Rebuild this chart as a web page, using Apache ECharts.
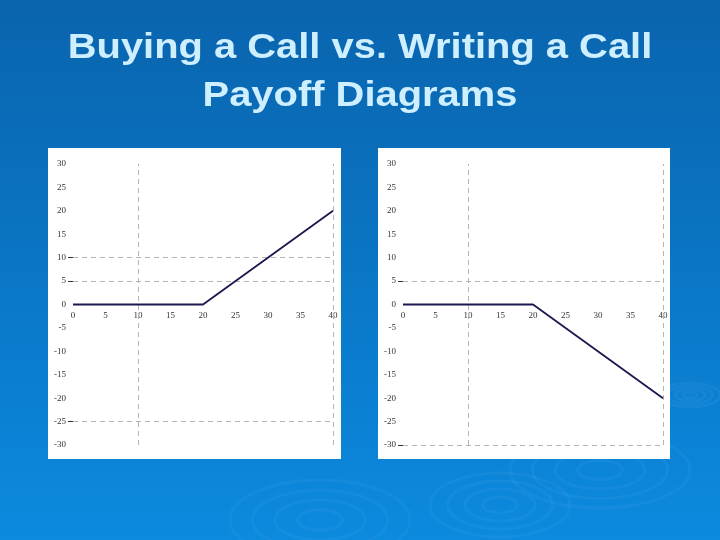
<!DOCTYPE html>
<html>
<head>
<meta charset="utf-8">
<script src="https://cdn.jsdelivr.net/npm/echarts@6/dist/echarts.min.js"></script>
<style>
html,body{margin:0;padding:0;width:720px;height:540px;overflow:hidden;}
#c{width:720px;height:540px;}
</style>
</head>
<body>
<div id="c"></div>
<script>
// ---- data ----
var titleLines = ['Buying a Call vs. Writing a Call', 'Payoff Diagrams'];
var stockPrice = [0, 20, 40];
var buyCallPayoff = [0, 0, 20];
var writeCallPayoff = [0, 0, -20];
var xTicks = [0, 5, 10, 15, 20, 25, 30, 35, 40];
var yTicks = [30, 25, 20, 15, 10, 5, 0, -5, -10, -15, -20, -25, -30];
var leftHGrid = [10, 5, -25];
var rightHGrid = [5, -30];
var vGrid = [10, 40];
var yMin = -30, yMax = 30;

function pairs(xs, ys){ return xs.map(function(x,i){ return [x, ys[i]]; }); }

var chart = echarts.init(document.getElementById('c'), null, {renderer:'canvas'});

var labelFont = {fontFamily:'Liberation Serif', fontSize:9, color:'#333'};
var gridH = 281;
var grids = [
  {left:73, top:164, width:260, height:gridH},
  {left:403, top:164, width:260, height:gridH}
];
// x axis drawn at the y = 0 level
var xOffset = -gridH * (0 - yMin) / (yMax - yMin);

function xAx(i){
  return {type:'value', gridIndex:i, min:0, max:40, interval:5, position:'bottom', offset:xOffset,
    axisLine:{show:false, onZero:false},
    axisTick:{show:false}, splitLine:{show:false},
    axisLabel:Object.assign({margin:7, showMaxLabel:true, showMinLabel:true, customValues:xTicks}, labelFont)};
}
function yAx(i, hg){
  return {type:'value', gridIndex:i, min:yMin, max:yMax, interval:5,
    axisLine:{show:false, onZero:false},
    axisTick:{show:true, length:5, customValues:hg, lineStyle:{color:'#333', width:1}},
    splitLine:{show:false},
    axisLabel:Object.assign({margin:7, align:'right', customValues:yTicks}, labelFont)};
}
function mk(hg){
  var d = [];
  hg.forEach(function(v){ d.push({yAxis:v}); });
  vGrid.forEach(function(v){ d.push({xAxis:v}); });
  return {silent:true, symbol:['none','none'], label:{show:false},
    lineStyle:{color:'#b4b4b4', type:[5,4], width:1}, data:d};
}

// ripple decorations (background)
var ripples = [];
[[320,520,90,40],[500,505,70,32],[600,470,90,38],[690,395,30,12]].forEach(function(r){
  for (var k=1;k<=4;k++){
    ripples.push({type:'ellipse', silent:true, z:-1,
      shape:{cx:r[0], cy:r[1], rx:r[2]*k/4, ry:r[3]*k/4},
      style:{fill:'none', stroke:'rgba(120,190,240,0.09)', lineWidth:3}});
  }
});

var titleTexts = titleLines.map(function(t, i){
  return {type:'text', silent:true, x:360, y:48 + i*48, scaleX:1.14,
    style:{text:t, fill:'#cdefff', font:'bold 35px "Liberation Sans"', align:'center', verticalAlign:'middle'}};
});

chart.setOption({
  backgroundColor:{type:'linear', x:0, y:0, x2:0, y2:1, colorStops:[
    {offset:0, color:'#0a64ad'}, {offset:0.5, color:'#0a76c6'}, {offset:1, color:'#0c8ade'}]},
  animation:false,
  graphic: ripples.concat(titleTexts).concat([
    {type:'rect', silent:true, z:0, shape:{x:48, y:148, width:293, height:311}, style:{fill:'#ffffff'}},
    {type:'rect', silent:true, z:0, shape:{x:378, y:148, width:292, height:311}, style:{fill:'#ffffff'}}
  ]),
  grid: grids,
  xAxis:[xAx(0), xAx(1)],
  yAxis:[yAx(0, leftHGrid), yAx(1, rightHGrid)],
  series:[
    {type:'line', xAxisIndex:0, yAxisIndex:0, data:pairs(stockPrice, buyCallPayoff), symbol:'none',
      lineStyle:{color:'#1b1850', width:1.8}, z:5, markLine:mk(leftHGrid)},
    {type:'line', xAxisIndex:1, yAxisIndex:1, data:pairs(stockPrice, writeCallPayoff), symbol:'none',
      lineStyle:{color:'#1b1850', width:1.8}, z:5, markLine:mk(rightHGrid)}
  ]
});
</script>
</body>
</html>
